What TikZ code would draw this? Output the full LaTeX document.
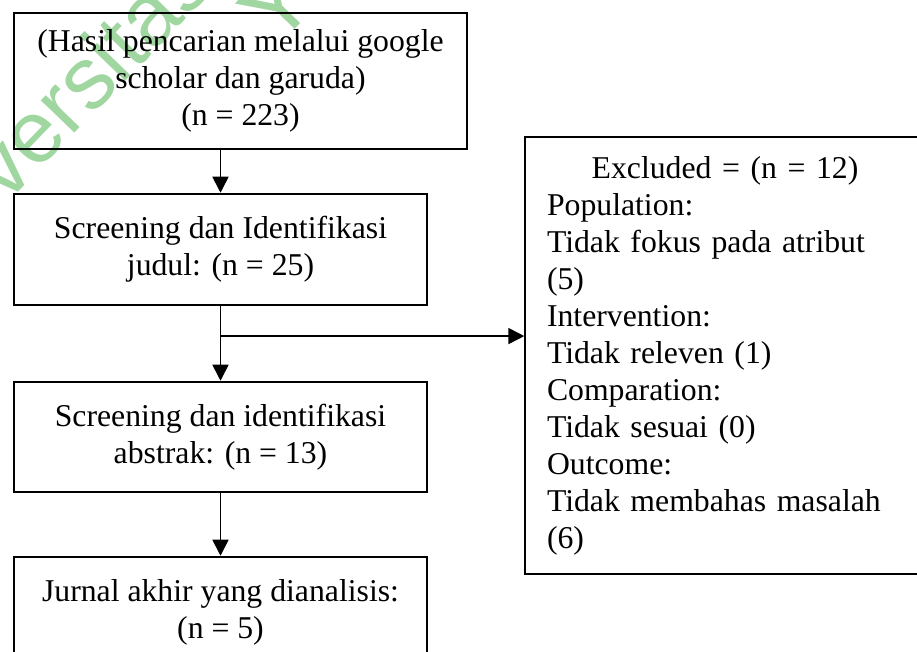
\documentclass[tikz,border=0pt]{standalone}
\usepackage{fontspec}
\setmainfont{Liberation Serif}
\newfontfamily\wmfont{Liberation Sans}
\usetikzlibrary{arrows.meta,calc}

\definecolor{wmgreen}{RGB}{160,214,160}

\tikzset{every picture/.style={line width=0.75pt}}
\tikzset{
	stepbox/.style={draw, line width=1.9pt, align=center, inner sep=0pt, font=\fontsize{23.8}{27.75}\selectfont},
	notebox/.style={draw, line width=1pt, align=left, inner sep=0pt, font=\fontsize{23.8}{27.75}\selectfont},
	flow/.style={line width=1.25pt, -{Triangle[length=12pt,width=12pt]}},
	watermark/.style={text=wmgreen, font=\wmfont\fontsize{66}{70}\selectfont, rotate=46, anchor=base west, inner sep=0pt}
}

\begin{document}
\begin{tikzpicture}[x=0.75pt,y=0.75pt,yscale=-1,xscale=1]
	\useasboundingbox (0,0) rectangle (917,651);
	
	% Watermark
	\node[watermark] (wmone) at (6,205) {versitas};
	\node[watermark] (wmtwo) at (277,48) {Y};
	
	% Left column
	\node[stepbox, minimum width=339.75pt, minimum height=102pt] (search) at (240.5,81) {(Hasil pencarian melalui google\\scholar dan garuda)\\(n = 223)};
	\node[stepbox, minimum width=309.75pt, minimum height=83.25pt] (title) at (220.5,249.5) {Screening dan Identifikasi\\judul: (n = 25)};
	\node[stepbox, minimum width=309.75pt, minimum height=82.5pt] (abstract) at (220.5,437) {Screening dan identifikasi\\abstrak: (n = 13)};
	\node[stepbox, minimum width=309.75pt, minimum height=83.25pt] (final) at (220.5,612.5) {Jurnal akhir yang dianalisis:\\(n = 5)};
	
	% Excluded box
	\node[notebox, minimum width=300pt, minimum height=327.75pt, text width=267pt] (excluded) at (725,355.5) {\makebox[267pt]{Excluded = (n = 12)}\\Population:\\Tidak fokus pada atribut\\(5)\\Intervention:\\Tidak releven (1)\\Comparation:\\Tidak sesuai (0)\\Outcome:\\Tidak membahas masalah\\(6)};
	
	% Arrows
	\coordinate (split) at ($(title.south)!0.4!(abstract.north)$);
	\draw[flow] (title.south |- search.south) -- (title.north);
	\draw[flow] (title.south) -- (abstract.north);
	\draw[flow] (split) -- (split -| excluded.west);
	\draw[flow] (abstract.south) -- (final.north);
	
\end{tikzpicture}
\end{document}
